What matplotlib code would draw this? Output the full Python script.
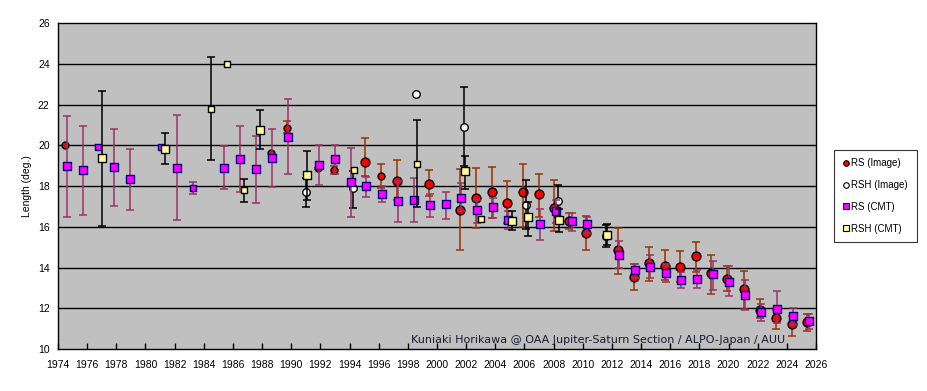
import numpy as np
import matplotlib
matplotlib.use("Agg")
import matplotlib.pyplot as plt
from matplotlib.lines import Line2D

# ---------------- data ----------------
# RS (Image)
rs_img_year = [1974.48, 1988.58, 1989.71, 1991.83, 1992.93, 1995.06, 1996.15, 1997.25, 1999.42,
               2001.57, 2002.67, 2003.77, 2004.79, 2005.89, 2006.99, 2008.04, 2009.07, 2010.19,
               2012.41, 2013.51, 2014.56, 2015.61, 2016.70, 2017.80, 2018.83, 2019.90, 2021.03,
               2022.15, 2023.25, 2024.34, 2025.35]
rs_img_val = [20.04, 19.65, 20.88, 18.91, 18.81, 19.21, 18.52, 18.27, 18.13,
              16.85, 17.44, 17.69, 17.15, 17.73, 17.59, 16.95, 16.31, 15.72,
              14.86, 13.56, 14.22, 14.10, 14.05, 14.55, 13.71, 13.45, 12.94,
              11.94, 11.50, 11.21, 11.35]
rs_img_hi = [np.nan, np.nan, 21.19, np.nan, 19.00, 20.36, 19.08, 19.28, 18.77,
             18.83, 18.87, 18.93, 18.25, 19.11, 18.59, 18.29, 16.70, 16.51,
             15.94, 14.17, 15.00, 14.87, 14.80, 15.25, 14.60, 14.10, 13.83,
             12.45, 11.90, 11.60, 11.70]
rs_img_lo = [np.nan, np.nan, 20.60, np.nan, 18.60, 18.50, 17.90, 17.30, 17.50,
             14.87, 15.94, 16.45, 16.20, 16.00, 16.50, 15.79, 15.90, 14.84,
             13.70, 12.90, 13.35, 13.40, 13.30, 13.80, 12.70, 12.85, 11.98,
             11.50, 11.00, 10.66, 10.90]
rs_img_big = [0, 0, 0, 0, 0, 1, 0, 1, 1,
              1, 1, 1, 1, 1, 1, 1, 1, 1,
              1, 1, 1, 1, 1, 1, 1, 1, 1,
              1, 1, 1, 1]

# RSH (Image)
rsh_img_year = [1991.01, 1994.23, 1998.53, 2001.85, 2006.10, 2008.27, 2011.56]
rsh_img_val = [17.73, 17.93, 22.55, 20.93, 17.05, 17.29, 15.53]
rsh_img_hi = [18.40, 18.72, np.nan, 22.89, 18.29, 18.05, 16.10]
rsh_img_lo = [16.98, 16.92, np.nan, 19.00, 15.90, 16.50, 15.00]

# RS (CMT)
rs_cmt_year = [1974.60, 1975.71, 1976.72, 1977.84, 1978.94, 1981.04, 1982.16, 1983.24, 1985.39,
               1986.48, 1987.58, 1988.68, 1989.78, 1991.90, 1993.00, 1994.10, 1995.12, 1996.22,
               1997.32, 1998.39, 1999.49, 2000.61, 2001.64, 2002.74, 2003.84, 2004.86, 2007.06,
               2008.14, 2009.23, 2010.26, 2012.48, 2013.57, 2014.63, 2015.70, 2016.77, 2017.87,
               2018.90, 2020.00, 2021.10, 2022.22, 2023.32, 2024.41, 2025.49]
rs_cmt_val = [19.01, 18.81, 19.94, 18.96, 18.37, 19.94, 18.91, 17.93, 18.91,
              19.35, 18.86, 19.40, 20.43, 19.06, 19.35, 18.22, 18.03, 17.59,
              17.29, 17.34, 17.05, 17.10, 17.44, 16.85, 17.00, 16.36, 16.16,
              16.80, 16.31, 16.12, 14.64, 13.86, 14.05, 13.71, 13.37, 13.46,
              13.66, 13.27, 12.63, 11.80, 11.98, 11.60, 11.40]
rs_cmt_hi = [21.44, 20.94, np.nan, 20.80, 19.82, np.nan, 21.48, 18.20, 19.98,
             20.94, 20.45, 20.80, 22.27, 20.04, 20.04, 19.86, 18.47, 18.00,
             18.27, 18.40, 17.59, 17.73, 18.15, 17.30, 17.42, 16.80, 16.90,
             17.30, 16.70, 16.50, 15.30, 14.20, 14.60, 14.20, 13.80, 13.90,
             14.30, 14.10, 13.40, 12.20, 12.85, 12.00, 11.70]
rs_cmt_lo = [16.48, 16.58, np.nan, 17.02, 16.82, np.nan, 16.33, 17.60, 17.85,
             17.70, 17.17, 17.95, 18.59, 18.05, 18.60, 16.48, 17.49, 17.20,
             16.23, 16.23, 16.48, 16.38, 16.80, 16.20, 16.45, 15.90, 15.35,
             16.20, 15.80, 15.70, 13.96, 13.50, 13.50, 13.30, 13.00, 13.00,
             12.90, 12.60, 11.90, 11.40, 11.30, 11.20, 11.00]
rs_cmt_big = [1, 1, 0, 1, 1, 0, 1, 0, 1] + [1] * 34

# RSH (CMT)
rsh_cmt_year = [1977.02, 1981.34, 1984.52, 1985.62, 1986.76, 1987.85, 1991.08, 1994.30,
                1998.60, 2001.92, 2002.99, 2005.14, 2006.24, 2008.36, 2011.63]
rsh_cmt_val = [19.40, 19.84, 21.81, 24.02, 17.83, 20.78, 18.57, 18.81,
               19.11, 18.72, 16.41, 16.31, 16.46, 16.36, 15.58]
rsh_cmt_hi = [22.66, 20.60, 24.33, np.nan, 18.34, 21.73, 19.72, np.nan,
              21.24, 19.47, np.nan, 16.77, 17.20, 16.90, 16.13]
rsh_cmt_lo = [16.02, 19.08, 19.28, np.nan, 17.21, 19.82, 17.31, np.nan,
              16.97, 17.85, np.nan, 15.84, 15.55, 15.74, 15.10]
rsh_cmt_big = [1, 1, 0, 0, 0, 1, 1, 0, 0, 1, 0, 1, 1, 1, 1]

x_ticks = list(range(1974, 2027, 2))
y_ticks = list(range(10, 27, 2))
credit = "Kuniaki Horikawa @ OAA Jupiter-Saturn Section / ALPO-Japan / AUU"

# ---------------- plot ----------------
plt.rcParams['font.family'] = ['Liberation Sans', 'DejaVu Sans']
fig = plt.figure(figsize=(9.28, 3.91), dpi=100)
ax = fig.add_axes([58 / 928, 1 - 349 / 391, (816 - 58) / 928, (349 - 23.3) / 391])
ax.set_facecolor('#C0C0C0')
ax.set_xlim(1974, 2026)
ax.set_ylim(10, 26)
for yv in y_ticks[1:-1]:
    ax.axhline(yv, color='black', lw=1.0, zorder=1)


def draw(years, vals, hi, lo, big, ecolor, marker, fc, ec, s_big, s_small, z):
    years = np.array(years); vals = np.array(vals)
    hi = np.array(hi); lo = np.array(lo)
    m = ~np.isnan(hi)
    ax.errorbar(years[m], vals[m], yerr=[vals[m] - lo[m], hi[m] - vals[m]], fmt='none',
                ecolor=ecolor, elinewidth=1.1, capsize=3, capthick=1.1, zorder=z)
    big = np.array(big, dtype=bool)
    ax.scatter(years[big], vals[big], s=s_big ** 2, marker=marker, facecolor=fc,
               edgecolor=ec, linewidths=1.0, zorder=z + 0.5)
    ax.scatter(years[~big], vals[~big], s=s_small ** 2, marker=marker, facecolor=fc,
               edgecolor=ec, linewidths=1.0, zorder=z + 0.5)


draw(rs_img_year, rs_img_val, rs_img_hi, rs_img_lo, rs_img_big, '#993300', 'o',
     '#FF0000', 'black', 6.4, 5.0, 3)
draw(rsh_img_year, rsh_img_val, rsh_img_hi, rsh_img_lo, [1] * len(rsh_img_year), 'black', 'o',
     'white', 'black', 5.4, 5.4, 4)
draw(rs_cmt_year, rs_cmt_val, rs_cmt_hi, rs_cmt_lo, rs_cmt_big, '#993366', 's',
     '#FF00FF', '#000080', 6.0, 4.2, 5)
draw(rsh_cmt_year, rsh_cmt_val, rsh_cmt_hi, rsh_cmt_lo, rsh_cmt_big, 'black', 's',
     '#FFFF99', 'black', 5.8, 4.2, 6)

ax.set_xticks(x_ticks)
ax.set_xticklabels([str(t) for t in x_ticks], fontsize=7.5)
ax.set_yticks(y_ticks)
ax.set_yticklabels([str(t) for t in y_ticks], fontsize=7.5)
ax.tick_params(axis='x', direction='in', length=4, width=1, pad=8)
ax.tick_params(axis='y', length=0, pad=6)
for sp in ax.spines.values():
    sp.set_color('black'); sp.set_linewidth(1.0)
ax.set_ylabel('Length (deg.)', fontsize=7.5, labelpad=4)

ax.text((785 - 58) / 758, 0.012, credit, transform=ax.transAxes, ha='right', va='bottom',
        fontsize=8, color='#1a1a33', family=['DejaVu Sans'], zorder=10)

handles = [
    Line2D([], [], ls='none', marker='o', ms=4, mfc='#FF0000', mec='black', mew=0.8),
    Line2D([], [], ls='none', marker='o', ms=4, mfc='white', mec='black', mew=0.8),
    Line2D([], [], ls='none', marker='s', ms=4, mfc='#FF00FF', mec='#000080', mew=0.8),
    Line2D([], [], ls='none', marker='s', ms=4, mfc='#FFFF99', mec='black', mew=0.8),
]
labels = ['RS (Image)', 'RSH (Image)', 'RS (CMT)', 'RSH (CMT)']
leg = fig.legend(handles, labels, loc='center left', bbox_to_anchor=(834 / 928, 1 - 196 / 391),
                 fontsize=7, frameon=True, fancybox=False, edgecolor='black',
                 handlelength=0.6, handletextpad=0.3, labelspacing=1.2,
                 borderpad=0.9, borderaxespad=0)
leg.get_frame().set_linewidth(0.8)

fig.savefig('out.png', dpi=100)
